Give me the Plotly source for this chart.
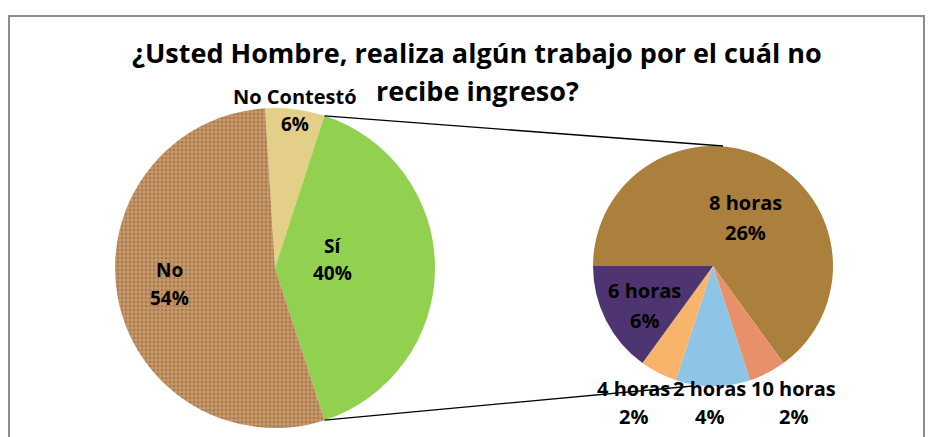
import math
import plotly.graph_objects as go

W, H = 933, 437
OFF = 8  # page body margin of the browser

# ---------------- data ----------------
main_labels = ["No Contestó", "Sí", "No"]
main_values = [6, 40, 54]
sub_labels = ["8 horas", "10 horas", "2 horas", "4 horas", "6 horas"]
sub_values = [26, 2, 4, 2, 6]
title_lines = ["¿Usted Hombre, realiza algún trabajo por el cuál no", "recibe ingreso?"]

# ---------------- styles ----------------
main_colors = ["#e3cf88", "#92d050", "#c39466"]
sub_colors = ["#ab803c", "#e8906a", "#8ec4e6", "#f7b46a", "#4e3470"]
FONT = "Open Sans"

# geometry (pixels in the screenshot)
L_CX, L_CY, L_R = 275, 268, 160
R_CX, R_CY, R_R = 713, 266, 120

def px(x):
    return (x - OFF) / W

def py(y):
    return 1 - (y - OFF) / H

total = sum(main_values)
si_frac = main_values[1] / total
half = si_frac * 360 / 2
start_angle = 90 - half - main_values[0] / total * 360  # clockwise from 12 o'clock

fig = go.Figure()
fig.add_trace(go.Pie(
    labels=main_labels, values=main_values, sort=False, direction="clockwise",
    rotation=start_angle,
    marker=dict(colors=main_colors, line=dict(width=0),
                pattern=dict(shape=["", "", "."], fgcolor="#8a5c34",
                             bgcolor="#c99a6b", size=4, solidity=0.45,
                             fillmode="overlay")),
    textinfo="none", hoverinfo="label+percent",
    domain=dict(x=[px(L_CX - L_R), px(L_CX + L_R)], y=[py(L_CY + L_R), py(L_CY - L_R)]),
    showlegend=False,
))
fig.add_trace(go.Pie(
    labels=sub_labels, values=sub_values, sort=False, direction="clockwise",
    rotation=-90,
    marker=dict(colors=sub_colors, line=dict(width=0)),
    textinfo="none", hoverinfo="label+value",
    domain=dict(x=[px(R_CX - R_R), px(R_CX + R_R)], y=[py(R_CY + R_R), py(R_CY - R_R)]),
    showlegend=False,
))

# connector lines from the edges of the "Sí" slice to top/bottom of second pie
a1 = math.radians(90 - half)
a2 = math.radians(90 + half)
p1 = (L_CX + L_R * math.sin(a1), L_CY - L_R * math.cos(a1))
p2 = (L_CX + L_R * math.sin(a2), L_CY - L_R * math.cos(a2))
shapes = [
    dict(type="line", xref="paper", yref="paper", x0=px(p1[0]), y0=py(p1[1]),
         x1=px(R_CX + 10), y1=py(R_CY - R_R), line=dict(color="black", width=1.3)),
    dict(type="line", xref="paper", yref="paper", x0=px(p2[0]), y0=py(p2[1]),
         x1=px(R_CX - 20), y1=py(R_CY + R_R), line=dict(color="black", width=1.3)),
    # chart frame
    dict(type="line", xref="paper", yref="paper", x0=px(8), y0=py(16), x1=px(925), y1=py(16),
         line=dict(color="#8c8c8c", width=2)),
    dict(type="line", xref="paper", yref="paper", x0=px(9), y0=py(16), x1=px(9), y1=py(445),
         line=dict(color="#8c8c8c", width=2)),
    dict(type="line", xref="paper", yref="paper", x0=px(924), y0=py(16), x1=px(924), y1=py(445),
         line=dict(color="#8c8c8c", width=2)),
]

annotations = []
def ann(text, x, y, size, bold=True):
    annotations.append(dict(
        text=f"<b>{text}</b>" if bold else text, x=px(x), y=py(y), xref="paper", yref="paper",
        showarrow=False, xanchor="center", yanchor="middle",
        font=dict(family=FONT, size=size, color="black")))

ann(title_lines[0], 477, 52, 27)
ann(title_lines[1], 477, 90, 27)

main_pos = {"No Contestó": [(295, 96), (295, 124)], "Sí": [(332, 246), (332, 273)],
            "No": [(169, 270), (169, 298)]}
for lab, v in zip(main_labels, main_values):
    (x1, y1), (x2, y2) = main_pos[lab]
    ann(lab, x1, y1, 20 if lab == "No Contestó" else 19)
    ann(f"{round(v / total * 100)}%", x2, y2, 19)

sub_pos = {"8 horas": [(745, 202), (745, 232)], "6 horas": [(644, 290), (644, 320)],
           "4 horas": [(633, 388), (633, 416)], "2 horas": [(709, 388), (709, 416)],
           "10 horas": [(793, 388), (793, 416)]}
for lab, v in zip(sub_labels, sub_values):
    (x1, y1), (x2, y2) = sub_pos[lab]
    ann(lab, x1, y1, 20)
    ann(f"{round(v / total * 100)}%", x2, y2, 20)

fig.update_layout(
    width=W, height=H, margin=dict(l=0, r=0, t=0, b=0),
    paper_bgcolor="white", plot_bgcolor="white",
    shapes=shapes, annotations=annotations,
)
fig.write_html("out.html")
